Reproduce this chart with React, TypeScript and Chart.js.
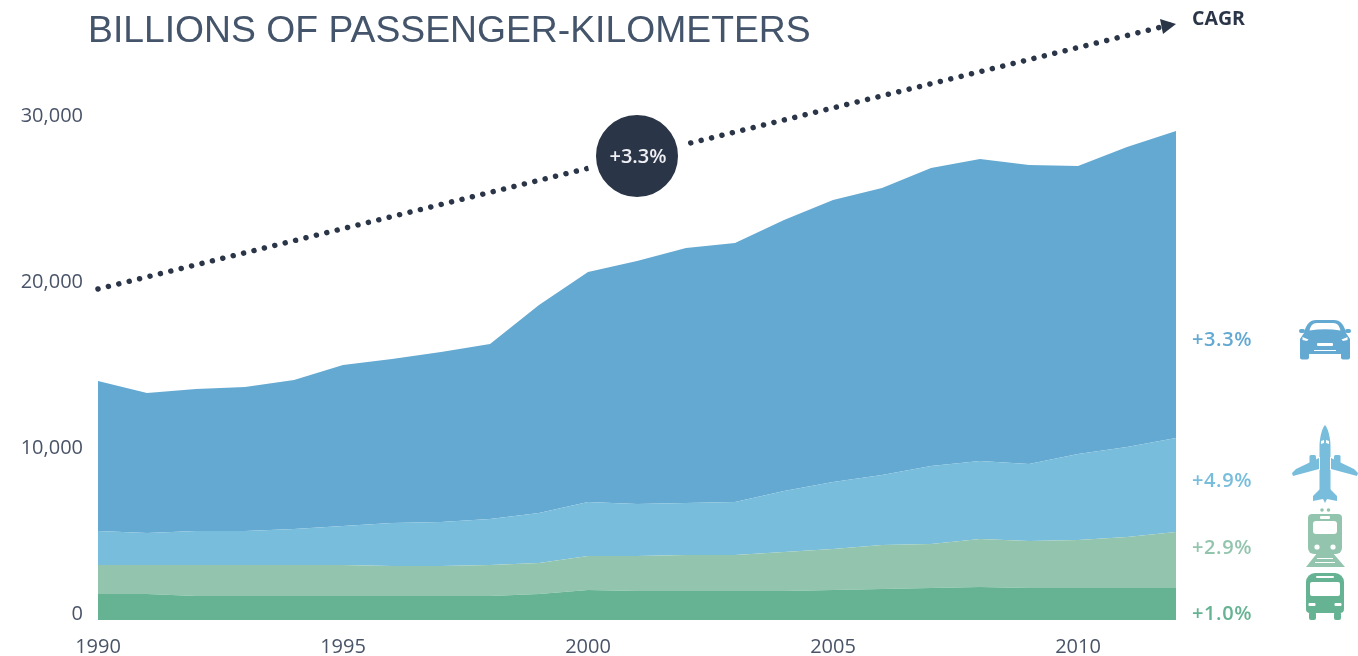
import React, { useEffect, useRef } from "react";
import { Chart, registerables } from "chart.js";

Chart.register(...registerables);

const years = [1990,1991,1992,1993,1994,1995,1996,1997,1998,1999,2000,2001,2002,2003,2004,2005,2006,2007,2008,2009,2010,2011,2012];
const bus = [1566,1566,1446,1446,1446,1446,1446,1446,1446,1566,1807,1747,1747,1747,1747,1807,1867,1928,1988,1928,1928,1928,1928];
const train = [1747,1747,1867,1867,1867,1867,1807,1807,1867,1867,2048,2108,2169,2169,2349,2470,2651,2651,2892,2831,2892,3072,3373];
const plane = [2048,1928,2048,2048,2169,2349,2590,2651,2771,3012,3253,3133,3133,3193,3675,4036,4217,4699,4699,4639,5181,5422,5663];
const car = [9036,8434,8554,8675,8976,9699,9880,10241,10542,12530,13855,14639,15361,15602,16325,16988,17289,17952,18193,18012,17349,18072,18494];
const trendLine = [19940,null,null,null,null,null,null,null,null,null,null,null,null,null,null,null,null,null,null,null,null,null,35940];
const badgeValues = [null,null,null,null,null,null,null,null,null,null,null,27950,null,null,null,null,null,null,null,null,null,null,null];

const titleText = "BILLIONS OF PASSENGER-KILOMETERS";
const cagrTitle = "CAGR";
const badgeText = "+3.3%";
const cagrLabels = ["+3.3%", "+4.9%", "+2.9%", "+1.0%"];

const CAR = "#64a9d2";
const PLANE = "#78bddb";
const TRAIN = "#93c5ae";
const BUS = "#66b393";
const DARK = "#2b3548";
const TICK = "#4a5468";
const FONT = '"Open Sans", sans-serif';

function roundRect(c: CanvasRenderingContext2D, x: number, y: number, w: number, h: number, r: number | number[], color: string) {
  c.fillStyle = color;
  c.beginPath();
  c.roundRect(x, y, w, h, r);
  c.fill();
}

function poly(c: CanvasRenderingContext2D, pts: number[][], color: string) {
  c.fillStyle = color;
  c.beginPath();
  pts.forEach((p, i) => (i ? c.lineTo(p[0], p[1]) : c.moveTo(p[0], p[1])));
  c.closePath();
  c.fill();
}

function drawCar(c: CanvasRenderingContext2D) {
  const W = "#fff";
  c.fillStyle = CAR;
  c.beginPath();
  c.moveTo(1304, 333);
  c.bezierCurveTo(1306, 324, 1310, 320, 1316, 320);
  c.lineTo(1334, 320);
  c.bezierCurveTo(1340, 320, 1344, 324, 1346, 333);
  c.lineTo(1350, 339);
  c.lineTo(1350, 354);
  c.lineTo(1300, 354);
  c.lineTo(1300, 339);
  c.closePath();
  c.fill();
  roundRect(c, 1299, 329, 6, 4, 2, CAR);
  roundRect(c, 1345, 329, 6, 4, 2, CAR);
  roundRect(c, 1300, 350, 9, 9.5, 2, CAR);
  roundRect(c, 1341, 350, 9, 9.5, 2, CAR);
  c.fillStyle = W;
  c.beginPath();
  c.moveTo(1309.5, 330.5);
  c.bezierCurveTo(1310.5, 326, 1312.5, 323, 1317, 323);
  c.lineTo(1333, 323);
  c.bezierCurveTo(1337.5, 323, 1339.5, 326, 1340.5, 330.5);
  c.quadraticCurveTo(1325, 328, 1309.5, 330.5);
  c.fill();
  poly(c, [[1302.5, 337], [1308.5, 339.5], [1307, 341], [1302.5, 340]], W);
  poly(c, [[1347.5, 337], [1341.5, 339.5], [1343, 341], [1347.5, 340]], W);
  roundRect(c, 1317, 343, 16, 3, 1, W);
  c.fillRect(1314, 350, 22, 1);
}

function drawPlane(c: CanvasRenderingContext2D) {
  const W = "#fff";
  poly(c, [[1319, 458], [1296, 469], [1292, 473], [1293, 476], [1319, 469]], PLANE);
  poly(c, [[1331, 458], [1354, 469], [1358, 473], [1357, 476], [1331, 469]], PLANE);
  roundRect(c, 1309.5, 455, 6.5, 12, 1.5, PLANE);
  roundRect(c, 1334, 455, 6.5, 12, 1.5, PLANE);
  poly(c, [[1321, 488], [1313, 496], [1313, 501], [1323, 499], [1325, 503], [1327, 499], [1337, 501], [1337, 496], [1329, 488]], PLANE);
  c.fillStyle = PLANE;
  c.beginPath();
  c.moveTo(1325, 425);
  c.bezierCurveTo(1328, 428, 1330.5, 438, 1330.5, 446);
  c.lineTo(1330.5, 490);
  c.quadraticCurveTo(1330, 497, 1325, 499);
  c.quadraticCurveTo(1320, 497, 1319.5, 490);
  c.lineTo(1319.5, 446);
  c.bezierCurveTo(1319.5, 438, 1322, 428, 1325, 425);
  c.closePath();
  c.fill();
  c.strokeStyle = W;
  c.lineWidth = 1;
  c.beginPath();
  c.moveTo(1319.5, 457);
  c.lineTo(1319.5, 470);
  c.moveTo(1330.5, 457);
  c.lineTo(1330.5, 470);
  c.stroke();
  poly(c, [[1321, 441], [1324, 440], [1324, 443], [1321, 444]], W);
  poly(c, [[1329, 441], [1326, 440], [1326, 443], [1329, 444]], W);
}

function drawTrain(c: CanvasRenderingContext2D) {
  const W = "#fff";
  c.fillStyle = TRAIN;
  c.beginPath();
  c.arc(1322, 510, 1.8, 0, Math.PI * 2);
  c.arc(1328.5, 510, 1.8, 0, Math.PI * 2);
  c.fill();
  poly(c, [[1318, 552], [1332, 552], [1345, 567], [1306, 567]], TRAIN);
  roundRect(c, 1308, 514, 34, 40, [4, 4, 6, 6], TRAIN);
  roundRect(c, 1320, 516, 10, 3, 1, W);
  roundRect(c, 1313, 521, 24, 13, 3, W);
  c.fillStyle = W;
  c.beginPath();
  c.arc(1317, 547, 2.6, 0, Math.PI * 2);
  c.fill();
  c.beginPath();
  c.arc(1333, 547, 2.6, 0, Math.PI * 2);
  c.fill();
  c.fillRect(1317, 558, 16, 1);
  c.fillRect(1315, 562, 20, 1);
}

function drawBus(c: CanvasRenderingContext2D) {
  const W = "#fff";
  roundRect(c, 1306, 573, 38, 40, [9, 9, 4, 4], BUS);
  roundRect(c, 1309, 612, 7, 8, 2, BUS);
  roundRect(c, 1334, 612, 7, 8, 2, BUS);
  roundRect(c, 1316, 576, 18, 2, 1, W);
  roundRect(c, 1310, 582, 30, 14, 2, W);
  roundRect(c, 1308.5, 603, 7, 3, 1, W);
  roundRect(c, 1334.5, 603, 7, 3, 1, W);
}

const annotations = {
  id: "annotations",
  afterDraw(chart: any) {
    const c: any = chart.ctx;
    c.save();
    c.textBaseline = "middle";
    c.textAlign = "left";

    c.font = '37.3px "Liberation Sans", Arial, sans-serif';
    c.fillStyle = "#44546a";
    c.fillText(titleText, 88, 32);

    c.font = `700 19.5px ${FONT}`;
    c.fillStyle = DARK;
    c.fillText(cagrTitle, 1192, 19);

    poly(c, [[1160, 19], [1176, 24], [1163, 34]], DARK);

    const badgePoint = chart.getDatasetMeta(5).data[11];
    c.font = `600 20px ${FONT}`;
    c.fillStyle = "#eef0f3";
    c.textAlign = "center";
    c.fillText(badgeText, badgePoint.x + 1, badgePoint.y + 1);

    c.textAlign = "left";
    const rows: [string, string, number][] = [
      [cagrLabels[0], CAR, 340],
      [cagrLabels[1], PLANE, 481],
      [cagrLabels[2], TRAIN, 548],
      [cagrLabels[3], BUS, 614],
    ];
    c.font = `600 20px ${FONT}`;
    c.letterSpacing = "0.6px";
    rows.forEach(([t, col, y]) => {
      c.fillStyle = col;
      c.fillText(t, 1192, y);
    });
    c.letterSpacing = "0px";

    drawCar(c);
    drawPlane(c);
    drawTrain(c);
    drawBus(c);
    c.restore();
  },
};

export default function App() {
  const ref = useRef<HTMLCanvasElement>(null);
  useEffect(() => {
    if (!ref.current) return;
    const area = (label: string, data: number[], color: string, fill: string) => ({
      label,
      data,
      backgroundColor: color,
      borderColor: color,
      borderWidth: 0,
      pointRadius: 0,
      tension: 0,
      fill,
      stack: "modes",
      order: 0,
    });
    const chart = new Chart(ref.current, {
      type: "line",
      data: {
        labels: years,
        datasets: [
          area("Bus", bus, BUS, "origin"),
          area("Train", train, TRAIN, "-1"),
          area("Plane", plane, PLANE, "-1"),
          area("Car", car, CAR, "-1"),
          {
            label: "Trend",
            data: trendLine,
            stack: "trend",
            spanGaps: true,
            clip: false,
            fill: false,
            borderColor: DARK,
            borderWidth: 5.5,
            borderCapStyle: "round",
            borderDash: [0.01, 10.7],
            pointRadius: 0,
            order: -1,
          },
          {
            label: "Badge",
            data: badgeValues,
            stack: "badge",
            clip: false,
            fill: false,
            showLine: false,
            pointRadius: 45.5,
            pointBackgroundColor: DARK,
            pointBorderColor: "#ffffff",
            pointBorderWidth: 9,
            order: -2,
          },
        ] as any,
      },
      options: {
        responsive: false,
        animation: false,
        layout: { autoPadding: false, padding: { left: 0, right: 182, top: 122, bottom: 0 } },
        plugins: { legend: { display: false }, tooltip: { enabled: false }, title: { display: false } },
        scales: {
          x: {
            type: "category",
            offset: false,
            grid: { display: false, drawTicks: false },
            border: { display: false },
            afterFit(s: any) {
              s.height = 36;
            },
            ticks: {
              autoSkip: false,
              maxRotation: 0,
              minRotation: 0,
              padding: 15,
              color: TICK,
              font: { family: FONT, size: 20 },
              callback(this: any, v: any) {
                const y = Number(this.getLabelForValue(v));
                return y % 5 === 0 ? String(y) : "";
              },
            },
          },
          y: {
            stacked: true,
            min: 0,
            max: 30000,
            grid: { display: false, drawTicks: false },
            border: { display: false },
            afterFit(s: any) {
              s.width = 98;
              s.paddingTop = 0;
              s.paddingBottom = 0;
            },
            ticks: {
              stepSize: 10000,
              padding: 15,
              labelOffset: -5.5,
              color: TICK,
              font: { family: FONT, size: 20 },
              callback: (v: any) => Number(v).toLocaleString("en-US"),
            },
          },
        },
      } as any,
      plugins: [annotations],
    });
    return () => chart.destroy();
  }, []);
  return (
    <div style={{ position: "absolute", left: 0, top: 0, width: 1358, height: 656, background: "#fff" }}>
      <canvas ref={ref} width={1358} height={656} style={{ display: "block" }} />
    </div>
  );
}
